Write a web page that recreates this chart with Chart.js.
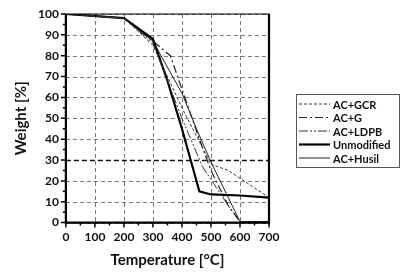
<!DOCTYPE html>
<html>
<head>
<meta charset="utf-8">
<script src="https://cdn.jsdelivr.net/npm/chart.js@4"></script>
<style>
  html, body { margin: 0; padding: 0; background: #fff; }
  #wrap { width: 410px; height: 275px; }
</style>
</head>
<body>
<div id="wrap"><canvas id="tga"></canvas></div>
<script>
// data
var seriesNames = ['AC+GCR', 'AC+G', 'AC+LDPB', 'Unmodified', 'AC+Husil'];

var tempGCR = [0, 200, 300, 400, 500, 560, 700];
var wGCR    = [100, 98, 85, 55, 28, 25, 12];

var tempG = [0, 200, 300, 360, 460, 500, 560, 600];
var wG    = [100, 98, 87, 80, 40, 25, 8, 0.5];

var tempLDPB = [0, 200, 300, 400, 470, 565, 600, 700];
var wLDPB    = [100, 98, 86, 50, 27, 7, 0.5, 0.5];

var tempUnmod = [0, 200, 300, 350, 400, 460, 500, 600, 700];
var wUnmod    = [100, 98, 88, 68, 45, 15, 13.5, 13, 12];

var tempHusil = [0, 200, 300, 400, 450, 500, 600, 700];
var wHusil    = [100, 98, 87, 62, 45, 29, 0.5, 0.5];

var xTicks = [0, 100, 200, 300, 400, 500, 600, 700];
var yTicks = [0, 10, 20, 30, 40, 50, 60, 70, 80, 90, 100];

function pts(xs, ys) {
  return xs.map(function (x, i) { return { x: x, y: ys[i] }; });
}

var FONT = 'Lato';

// dashed grid under the lines
var gridPlugin = {
  id: 'dashgrid',
  beforeDatasetsDraw: function (chart) {
    var ctx = chart.ctx;
    var a = chart.chartArea;
    var xs = chart.scales.x, ys = chart.scales.y;
    ctx.save();
    ctx.strokeStyle = '#777';
    ctx.lineWidth = 1;
    ctx.setLineDash([4, 3]);
    ctx.beginPath();
    xTicks.forEach(function (v) {
      var px = Math.round(xs.getPixelForValue(v)) + 0.5;
      ctx.moveTo(px, a.top);
      ctx.lineTo(px, a.bottom);
    });
    yTicks.forEach(function (v) {
      if (v === 30) return;
      var py = Math.round(ys.getPixelForValue(v)) + 0.5;
      ctx.moveTo(a.left, py);
      ctx.lineTo(a.right, py);
    });
    ctx.stroke();
    // the 30 % line is heavier in the picture
    ctx.strokeStyle = '#111';
    ctx.lineWidth = 1.5;
    ctx.setLineDash([5, 3]);
    ctx.beginPath();
    var p30 = Math.round(ys.getPixelForValue(30)) + 0.5;
    ctx.moveTo(a.left, p30);
    ctx.lineTo(a.right, p30);
    ctx.stroke();
    ctx.restore();
  }
};

// draws the frame, minor ticks and the boxed legend
var framePlugin = {
  id: 'frame',
  afterDraw: function (chart) {
    var ctx = chart.ctx;
    var a = chart.chartArea;
    var xs = chart.scales.x, ys = chart.scales.y;
    ctx.save();
    ctx.strokeStyle = '#000';
    ctx.lineWidth = 1;
    ctx.strokeRect(a.left, a.top, a.right - a.left, a.bottom - a.top);
    ctx.lineWidth = 2.2;
    ctx.beginPath();
    ctx.moveTo(a.left, a.top);
    ctx.lineTo(a.left, a.bottom);
    ctx.lineTo(a.right, a.bottom);
    ctx.lineTo(a.right, a.top);
    ctx.stroke();

    // major + minor ticks
    ctx.lineWidth = 1.5;
    ctx.beginPath();
    for (var v = 0; v <= 100; v += 5) {
      var py = ys.getPixelForValue(v);
      ctx.moveTo(a.left - (v % 10 ? 3 : 5), py);
      ctx.lineTo(a.left, py);
    }
    for (var t = 0; t <= 700; t += 50) {
      var px = xs.getPixelForValue(t);
      ctx.moveTo(px, a.bottom);
      ctx.lineTo(px, a.bottom + (t % 100 ? 3 : 5));
    }
    ctx.stroke();

    // legend
    var bx = a.right + 27, by = 94, bw = 103, bh = 73;
    ctx.lineWidth = 1;
    ctx.strokeStyle = '#555';
    ctx.strokeRect(bx + 0.5, by + 0.5, bw, bh);
    ctx.font = 'bold 11px ' + FONT;
    ctx.textBaseline = 'middle';
    ctx.fillStyle = '#111';
    chart.data.datasets.forEach(function (ds, i) {
      var ly = by + 10 + i * 13.5;
      ctx.strokeStyle = ds.borderColor;
      ctx.lineWidth = ds.borderWidth;
      ctx.setLineDash(ds.borderDash || []);
      ctx.beginPath();
      ctx.moveTo(bx + 3, ly);
      ctx.lineTo(bx + 34, ly);
      ctx.stroke();
      ctx.setLineDash([]);
      ctx.fillText(ds.label, bx + 37, ly + 1);
    });
    ctx.restore();
  }
};

var styles = [
  { dash: [3, 2], width: 1, color: '#333' },
  { dash: [8, 3, 2, 3], width: 1.2, color: '#222' },
  { dash: [9, 2, 2, 2, 2, 2], width: 1, color: '#333' },
  { dash: [], width: 2.2, color: '#000' },
  { dash: [], width: 1, color: '#222' }
];
var allData = [
  pts(tempGCR, wGCR),
  pts(tempG, wG),
  pts(tempLDPB, wLDPB),
  pts(tempUnmod, wUnmod),
  pts(tempHusil, wHusil)
];

new Chart(document.getElementById('tga'), {
  type: 'line',
  data: {
    datasets: seriesNames.map(function (name, i) {
      return {
        label: name,
        data: allData[i],
        borderColor: styles[i].color,
        borderWidth: styles[i].width,
        borderDash: styles[i].dash,
        pointRadius: 0,
        tension: 0,
        fill: false
      };
    })
  },
  options: {
    responsive: true,
    maintainAspectRatio: false,
    animation: false,
    layout: { padding: { top: 14, right: 141, left: 8, bottom: 2 } },
    plugins: {
      legend: { display: false },
      tooltip: { enabled: false }
    },
    scales: {
      x: {
        type: 'linear',
        min: 0, max: 700,
        afterBuildTicks: function (s) { s.ticks = xTicks.map(function (v) { return { value: v }; }); },
        grid: { display: true, drawOnChartArea: false, drawTicks: true, tickLength: 5, color: 'rgba(0,0,0,0)' },
        border: { display: false },
        ticks: { color: '#111', font: { family: FONT, size: 12, weight: 'bold' }, padding: 2, maxRotation: 0 },
        title: { display: true, text: 'Temperature [°C]', color: '#111', font: { family: FONT, size: 15, weight: 'bold' }, padding: { top: 5 } }
      },
      y: {
        min: 0, max: 100,
        afterBuildTicks: function (s) { s.ticks = yTicks.map(function (v) { return { value: v }; }); },
        grid: { display: true, drawOnChartArea: false, drawTicks: true, tickLength: 5, color: 'rgba(0,0,0,0)' },
        border: { display: false },
        ticks: { color: '#111', font: { family: FONT, size: 12, weight: 'bold' }, padding: 2 },
        title: { display: true, text: 'Weight [%]', color: '#111', font: { family: FONT, size: 15, weight: 'bold' }, padding: { bottom: 6 } }
      }
    }
  },
  plugins: [gridPlugin, framePlugin]
});
</script>
</body>
</html>
